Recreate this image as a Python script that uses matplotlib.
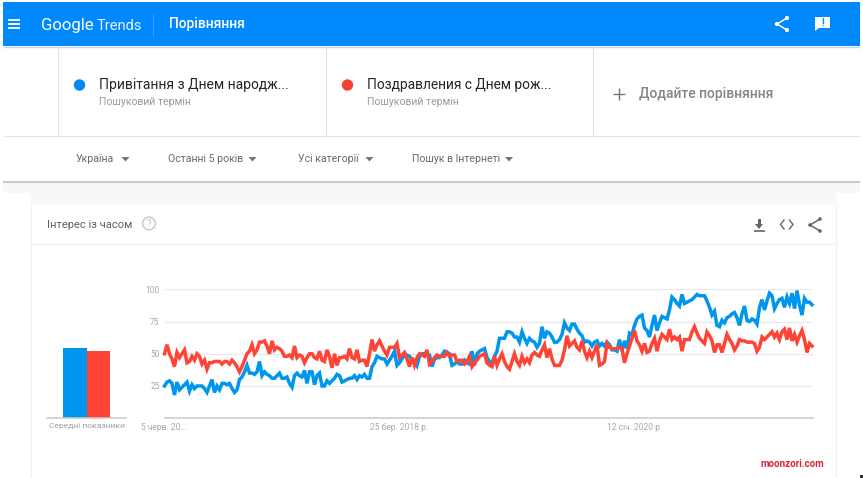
import numpy as np
import matplotlib
matplotlib.use("Agg")
import matplotlib.pyplot as plt
from matplotlib.patches import Rectangle, Circle, Polygon

plt.rcParams['font.family'] = ['Roboto', 'DejaVu Sans']

ukr_term = [25,28,29,27,18,28,22,24,26,28,21,26,23,25,25,25,23,20,25,30,20,25,22,27,27,26,27,23,20,22,
 30,32,36,41,35,35,34,36,44,33,36,34,33,31,31,33,35,31,31,32,27,24,33,35,33,32,37,27,36,36,
 26,33,35,25,25,29,27,29,31,34,33,28,29,30,31,31,33,30,33,32,34,31,31,40,43,48,47,46,46,42,
 45,48,52,41,43,46,49,49,48,45,45,41,48,50,50,50,49,40,46,47,47,49,52,51,50,41,42,44,42,42,
 45,43,42,52,41,50,52,53,54,47,44,43,48,52,62,62,62,67,67,66,63,63,59,67,62,58,62,60,59,55,
 58,71,62,67,66,63,59,59,61,65,74,70,68,73,73,69,66,64,59,60,59,56,59,60,56,58,56,59,57,53,
 53,52,61,52,60,54,66,65,72,77,79,80,70,68,63,72,80,68,74,79,78,77,84,94,92,89,87,96,89,90,
 91,92,94,96,95,95,95,91,86,80,83,72,71,76,74,78,79,81,82,78,72,81,87,76,75,77,76,73,86,92,
 84,91,97,95,85,89,92,93,86,94,89,97,85,99,88,80,93,90,90,88]
rus_term = [50,57,50,46,40,51,47,50,53,43,44,48,45,50,48,42,45,38,43,43,44,44,44,42,44,44,42,45,43,40,
 36,40,45,50,52,57,50,53,59,59,60,56,50,60,53,55,54,52,48,48,49,47,56,47,49,48,43,47,50,50,
 47,46,52,45,44,53,48,39,50,41,47,47,48,46,54,47,46,53,44,45,45,40,50,61,52,57,60,56,52,49,
 55,55,55,58,47,49,51,46,40,47,41,47,50,49,48,53,42,44,47,49,48,48,48,51,48,49,49,44,45,45,
 42,44,48,40,43,45,48,49,50,43,41,40,48,41,46,50,44,40,38,44,50,44,41,48,43,46,43,49,51,49,
 48,53,57,47,54,46,41,41,41,45,53,64,56,58,60,55,53,60,52,47,52,47,52,57,41,42,44,58,55,54,
 54,54,55,54,43,50,56,62,68,60,57,52,58,51,52,58,62,52,60,65,63,61,69,61,63,61,63,52,61,61,
 61,67,71,66,62,60,58,67,64,60,51,57,57,51,58,65,61,58,53,56,61,60,60,59,59,59,58,52,55,63,
 61,63,65,67,63,66,61,67,69,61,70,60,65,59,64,68,61,51,58,56]
averages = [54.6, 52.3]
y_ticks = [25, 50, 75, 100]
x_ticks = [0, 94, 188]
x_labels = ["5 черв. 20...", "25 бер. 2018 р.", "12 січ. 2020 р."]

W, H = 863, 478
BLUE, RED = "#0096EE", "#FF4436"
fig = plt.figure(figsize=(W/100, H/100), dpi=100, facecolor="white")
ui = fig.add_axes([0, 0, 1, 1]); ui.set_xlim(0, W); ui.set_ylim(H, 0); ui.axis("off")

def rect(x0, y0, x1, y1, c, z=1):
    ui.add_patch(Rectangle((x0, y0), x1-x0, y1-y0, fc=c, ec="none", zorder=z))
def line(x0, y0, x1, y1, c, lw=1, z=2):
    ui.plot([x0, x1], [y0, y1], color=c, lw=lw, solid_capstyle="butt", zorder=z)
def text(x, y, s, size, c, **k):
    k.setdefault("va", "center"); k.setdefault("ha", "left")
    ui.text(x, y, s, fontsize=size, color=c, zorder=5, **k)
def caret(x, y, c="#757575"):
    ui.add_patch(Polygon([(x-4, y-2), (x+4, y-2), (x, y+2.5)], fc=c, ec="none", zorder=5))
def share(cx, cy, c, r=1.9, s=1.0):
    pts = [(cx+5*s, cy-6*s), (cx-5*s, cy), (cx+5*s, cy+6*s)]
    ui.plot(*zip(*pts), color=c, lw=1.1, zorder=5)
    for p in pts:
        ui.add_patch(Circle(p, r, fc=c, ec="none", zorder=5))

# header
rect(3, 2, 860, 46, "#0088FD")
line(3, 46.8, 860, 46.8, "#C5D6EA", 1)
for y in (20, 24, 28):
    line(8, y, 20, y, "white", 1.3, 5)
text(41, 25, "Google", 12.1, "white")
text(96.5, 25.5, "Trends", 10.6, "#E8F3FF")
line(153, 14, 153, 36, "#3AA0FF", 0.8, 5)
text(169, 24, "Порівняння", 9.95, "white", fontweight="medium")
share(782, 24, "white", 2.1)
ui.add_patch(Polygon([(815, 17), (830, 17), (830, 28), (819, 28), (815, 31)], fc="white", ec="none", zorder=5))
text(822.5, 22.5, "!", 7, "#0088FD", ha="center", fontweight="bold")

# search terms
for x in (58, 326, 593):
    line(x, 47, x, 136, "#E2E2E2", 0.8)
line(3, 136, 860, 136, "#E2E2E2", 0.8)
ui.add_patch(Circle((79.5, 85), 5.7, fc="#0088F5", ec="none", zorder=5))
ui.add_patch(Circle((347.5, 85), 5.7, fc="#F5402F", ec="none", zorder=5))
text(99, 85, "Привітання з Днем народж...", 10.0, "#262626")
text(99, 101.5, "Пошуковий термін", 7.55, "#9A9A9A")
text(367, 85, "Поздравления с Днем рож...", 9.9, "#262626")
text(367, 101.5, "Пошуковий термін", 7.55, "#9A9A9A")
line(613, 93.5, 625, 93.5, "#757575", 1)
line(619, 87.5, 619, 99.5, "#757575", 1)
text(639, 94, "Додайте порівняння", 10.0, "#858585", fontweight="medium")

# filters
for x, caret_x, s in ((76, 125.5, "Україна"), (168, 252.5, "Останні 5 років"),
                      (298, 369.5, "Усі категорії"), (412, 509, "Пошук в Інтернеті")):
    text(x, 159.5, s, 7.55, "#6A6A6A")
    caret(caret_x, 159)
line(3, 182.3, 860, 182.3, "#C8C8C8", 1.4)

# card
rect(3, 183, 860, 193, "#F8F8F8")
rect(30, 193, 836, 205, "#F8F8F8")
line(30.5, 205, 30.5, H, "#F2F2F2", 0.8)
line(835.5, 205, 835.5, H, "#F2F2F2", 0.8)
line(31, 244, 835, 244, "#EDEDED", 0.8)
text(47, 224.5, "Інтерес із часом", 8.0, "#5F5F5F")
ui.add_patch(Circle((149, 223.5), 6.3, fc="none", ec="#C6C6C6", lw=1, zorder=5))
text(149, 223.5, "?", 7, "#BDBDBD", ha="center")
# download, embed, share
ui.add_patch(Polygon([(755, 224), (763, 224), (759, 229)], fc="#666666", ec="none", zorder=5))
rect(757.5, 219, 760.5, 225, "#666666", 5)
line(753.5, 231, 764.5, 231, "#666666", 1.2, 5)
ui.plot([784, 780.5, 784], [220, 224.5, 229], color="#666666", lw=1, zorder=5)
ui.plot([789.5, 793, 789.5], [220, 224.5, 229], color="#666666", lw=1, zorder=5)
share(815, 225, "#666666", 1.8)
text(824, 464, "moonzori.com", 7, "#DC2238", ha="right", fontweight="bold")
rect(860, 475, 863, 478, "#333333", 5)

def px_axes(x0, x1, y_top, y_bot):
    ax = fig.add_axes([x0/W, 1-y_bot/H, (x1-x0)/W, (y_bot-y_top)/H], facecolor="none")
    for s in ax.spines.values():
        s.set_visible(False)
    ax.spines["bottom"].set_visible(True)
    ax.spines["bottom"].set_color("#C9C9C9")
    ax.spines["bottom"].set_linewidth(1.1)
    return ax

# trend lines
ax = px_axes(164.5, 813, 289.3, 418.2)
weeks = np.arange(len(ukr_term))
ax.set_xlim(0, (813-164.5)/2.5); ax.set_ylim(0, 100)
ax.set_yticks(y_ticks); ax.set_xticks(x_ticks, x_labels)
ax.grid(axis="y", color="#E8E8E8", lw=0.9); ax.set_axisbelow(True)
ax.tick_params(length=0, labelsize=6.15, labelcolor="#A8A8A8")
ax.tick_params(axis="y", pad=3.5)
ax.tick_params(axis="x", pad=3.2)
ax.plot(weeks, ukr_term, color=BLUE, lw=2.5, solid_joinstyle="miter", clip_on=False)
ax.plot(weeks, rus_term, color=RED, lw=2.5, solid_joinstyle="miter", clip_on=False)

# average bars
bx = px_axes(47.3, 126, 289.3, 418.2)
bx.set_xlim(47.3, 126); bx.set_ylim(0, 100)
bx.set_yticks([]); bx.set_xticks([86.6], ["Середні показники"])
bx.tick_params(length=0, labelsize=6.1, labelcolor="#A0A0A0", pad=3.2)
bx.bar([75, 98.7], averages, width=23.5, color=[BLUE, RED])

fig.savefig("out.png", dpi=100, facecolor="white")
